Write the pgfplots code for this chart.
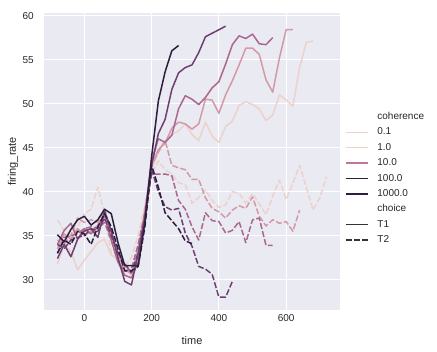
\documentclass[border=0pt]{standalone}
\usepackage{pgfplots}
\pgfplotsset{compat=1.18}
\usepackage{fontspec}
\setmainfont{Liberation Sans}
\definecolor{bg}{HTML}{EAEAF2}
\definecolor{txt}{HTML}{262626}
\definecolor{ca}{HTML}{EDD1CB}
\definecolor{cb}{HTML}{D499A7}
\definecolor{cc}{HTML}{AA678F}
\definecolor{cd}{HTML}{6E4071}
\definecolor{ce}{HTML}{2D1E3E}
\definecolor{cleg}{HTML}{BB7897}
\definecolor{cgray}{HTML}{333333}
\begin{document}
\begin{tikzpicture}
\useasboundingbox (0,0) rectangle (437pt,352pt);
\begin{axis}[
 at={(44pt,42pt)}, anchor=south west,
 scale only axis, width=296pt, height=297pt,
 xmin=-120, xmax=760, ymin=26.55, ymax=60.3,
 xtick={0,200,400,600}, ytick={30,35,40,45,50,55,60},
 axis background/.style={fill=bg},
 axis line style={draw=none},
 major tick length=0pt,
 grid=major, major grid style={white, line width=1.1pt},
 tick label style={font=\fontsize{10}{12}\selectfont, text=txt},
 /pgf/number format/assume math mode=true,
 xticklabel style={inner sep=0pt, anchor=north, yshift=-4pt},
 yticklabel style={inner sep=0pt, anchor=east, xshift=-10pt},
 xlabel={time}, ylabel={firing\_rate},
 label style={font=\fontsize{11}{13}\selectfont, text=txt},
 xlabel style={at={(axis description cs:0.5,-0.1145)}, anchor=base},
 ylabel style={at={(axis description cs:-0.095,0.5)}, anchor=base},
 legend cell align=left,
 legend style={at={(axis description cs:1.0169,0.6667)}, anchor=north west, draw=none, fill=none, inner sep=0pt, outer sep=0pt, font=\fontsize{10}{12}\selectfont, text=txt, row sep=5.4pt, column sep=9pt, nodes={inner sep=0pt, text height=7.5pt, text depth=2.5pt}},
 legend image code/.code={\draw[#1, line width=1.4pt] (0pt,0pt) -- (22pt,0pt);},
]
\pgfplotsset{every axis plot/.append style={line width=1.5pt, line join=round}}
\tikzset{dsh/.style={dash pattern=on 6pt off 2.25pt}}
% coherence 3.2
\addplot[ca, forget plot] coordinates {(-80,31.8)(-60,34.0)(-40,33.2)(-20,31.1)(0,32.2)(20,33.2)(40,34.2)(60,34.6)(80,32.8)(100,32.3)(120,31.2)(140,30.6)(160,33.5)(180,37.5)(200,42.5)(220,44.5)(240,45.8)(260,46.5)(280,46.9)(300,47.7)(320,46.5)(340,45.8)(360,47.9)(380,46.3)(400,45.6)(420,47.4)(440,48.0)(460,49.8)(480,50.2)(500,49.9)(520,49.4)(540,48.1)(560,48.7)(580,51.0)(600,50.4)(620,49.7)(640,54.1)(660,57.0)(680,57.1)};
\addplot[ca, dsh, forget plot] coordinates {(-80,36.8)(-60,35.5)(-40,35.0)(-20,36.0)(0,37.5)(20,38.0)(40,40.5)(60,37.5)(80,33.0)(100,32.5)(120,31.5)(140,32.5)(160,35.0)(180,38.5)(200,42.0)(220,43.5)(240,42.5)(260,42.0)(280,41.0)(300,40.8)(320,38.7)(340,39.3)(360,40.2)(380,39.0)(400,38.2)(420,38.5)(440,40.0)(460,39.8)(480,38.7)(500,39.8)(520,38.6)(540,37.4)(560,39.5)(580,41.3)(600,39.1)(620,41.0)(640,43.0)(660,40.5)(680,37.9)(700,39.3)(720,41.7)};
% coherence 6.4
\addplot[cb, forget plot] coordinates {(-80,33.5)(-60,35.2)(-40,34.6)(-20,35.8)(0,35.0)(20,35.5)(40,36.2)(60,37.5)(80,35.0)(100,33.0)(120,31.0)(140,30.8)(160,33.0)(180,37.0)(200,43.0)(220,44.8)(240,45.5)(260,47.2)(280,47.9)(300,47.7)(320,47.1)(340,47.7)(360,50.5)(380,50.4)(400,48.9)(420,51.0)(440,52.6)(460,54.4)(480,56.3)(500,56.3)(520,55.6)(540,52.7)(560,51.3)(580,55.2)(600,58.4)(620,58.4)};
\addplot[cb, dsh, forget plot] coordinates {(-80,34.5)(-60,34.0)(-40,35.0)(-20,37.0)(0,36.5)(20,36.8)(40,36.5)(60,38.0)(80,35.5)(100,33.0)(120,31.5)(140,30.5)(160,33.5)(180,38.0)(200,43.0)(220,44.5)(240,45.8)(260,43.0)(280,42.7)(300,42.5)(320,41.4)(340,41.4)(360,39.3)(380,38.1)(400,37.7)(420,37.0)(440,37.9)(460,38.4)(480,38.1)(500,39.4)(520,37.2)(540,36.1)(560,36.8)(580,36.4)(600,36.6)(620,35.5)(640,37.9)};
% coherence 12.8
\addplot[cc, forget plot] coordinates {(-80,34.0)(-60,35.6)(-40,36.4)(-20,34.6)(0,35.8)(20,35.2)(40,36.0)(60,37.3)(80,34.5)(100,32.0)(120,30.5)(140,30.2)(160,32.0)(180,37.5)(200,43.5)(220,46.0)(240,45.6)(260,46.4)(280,49.4)(300,50.9)(320,50.5)(340,49.9)(360,50.7)(380,51.8)(400,52.5)(420,54.5)(440,56.7)(460,57.7)(480,57.4)(500,57.9)(520,56.8)(540,56.7)(560,57.5)};
\addplot[cc, dsh, forget plot] coordinates {(-80,33.0)(-60,34.8)(-40,35.0)(-20,35.2)(0,35.8)(20,36.0)(40,35.8)(60,36.5)(80,34.5)(100,32.0)(120,31.0)(140,31.2)(160,34.0)(180,37.5)(200,42.0)(220,42.0)(240,42.0)(260,41.8)(280,39.0)(300,38.0)(320,36.0)(340,34.5)(360,37.6)(380,36.7)(400,36.6)(420,35.3)(440,35.6)(460,36.6)(480,34.2)(500,36.8)(520,37.0)(540,33.9)(560,33.9)};
% coherence 25.6
\addplot[cd, forget plot] coordinates {(-80,32.4)(-60,34.0)(-40,32.6)(-20,34.6)(0,35.5)(20,35.8)(40,34.8)(60,37.8)(80,35.5)(100,32.5)(120,29.8)(140,29.4)(160,33.0)(180,37.0)(200,43.0)(220,46.6)(240,48.2)(260,51.6)(280,53.5)(300,54.1)(320,54.4)(340,55.8)(360,57.6)(380,58.0)(400,58.4)(420,58.8)};
\addplot[cd, dsh, forget plot] coordinates {(-80,34.0)(-60,33.5)(-40,34.5)(-20,34.8)(0,35.0)(20,35.8)(40,35.5)(60,37.0)(80,35.0)(100,33.0)(120,31.8)(140,30.8)(160,33.0)(180,37.0)(200,42.5)(220,40.0)(240,38.3)(260,37.9)(280,38.1)(300,35.3)(320,33.8)(340,31.5)(360,31.2)(380,30.6)(400,28.0)(420,28.0)(440,29.8)};
% coherence 51.2
\addplot[ce, forget plot] coordinates {(-80,35.1)(-60,34.3)(-40,35.7)(-20,36.8)(0,37.2)(20,36.2)(40,36.8)(60,38.0)(80,37.5)(100,34.2)(120,31.6)(140,31.6)(160,31.6)(180,36.5)(200,44.0)(220,50.3)(240,53.6)(260,56.0)(280,56.6)};
\addplot[ce, dsh, forget plot] coordinates {(-80,33.0)(-60,34.5)(-40,34.0)(-20,35.5)(0,35.2)(20,34.0)(40,36.0)(60,37.5)(80,36.0)(100,33.5)(120,31.0)(140,31.0)(160,31.5)(180,36.0)(200,43.0)(220,40.5)(240,37.6)(260,36.7)(280,35.8)(300,34.4)(320,34.1)};
% legend
\addlegendimage{empty legend}\addlegendentry{coherence}
\addlegendimage{ca}\addlegendentry{0.1}
\addlegendimage{ca}\addlegendentry{1.0}
\addlegendimage{cleg}\addlegendentry{10.0}
\addlegendimage{ce}\addlegendentry{100.0}
\addlegendimage{ce}\addlegendentry{1000.0}
\addlegendimage{empty legend}\addlegendentry{choice}
\addlegendimage{cgray}\addlegendentry{T1}
\addlegendimage{cgray, dash pattern=on 6pt off 2.25pt}\addlegendentry{T2}
\end{axis}
\end{tikzpicture}
\end{document}
